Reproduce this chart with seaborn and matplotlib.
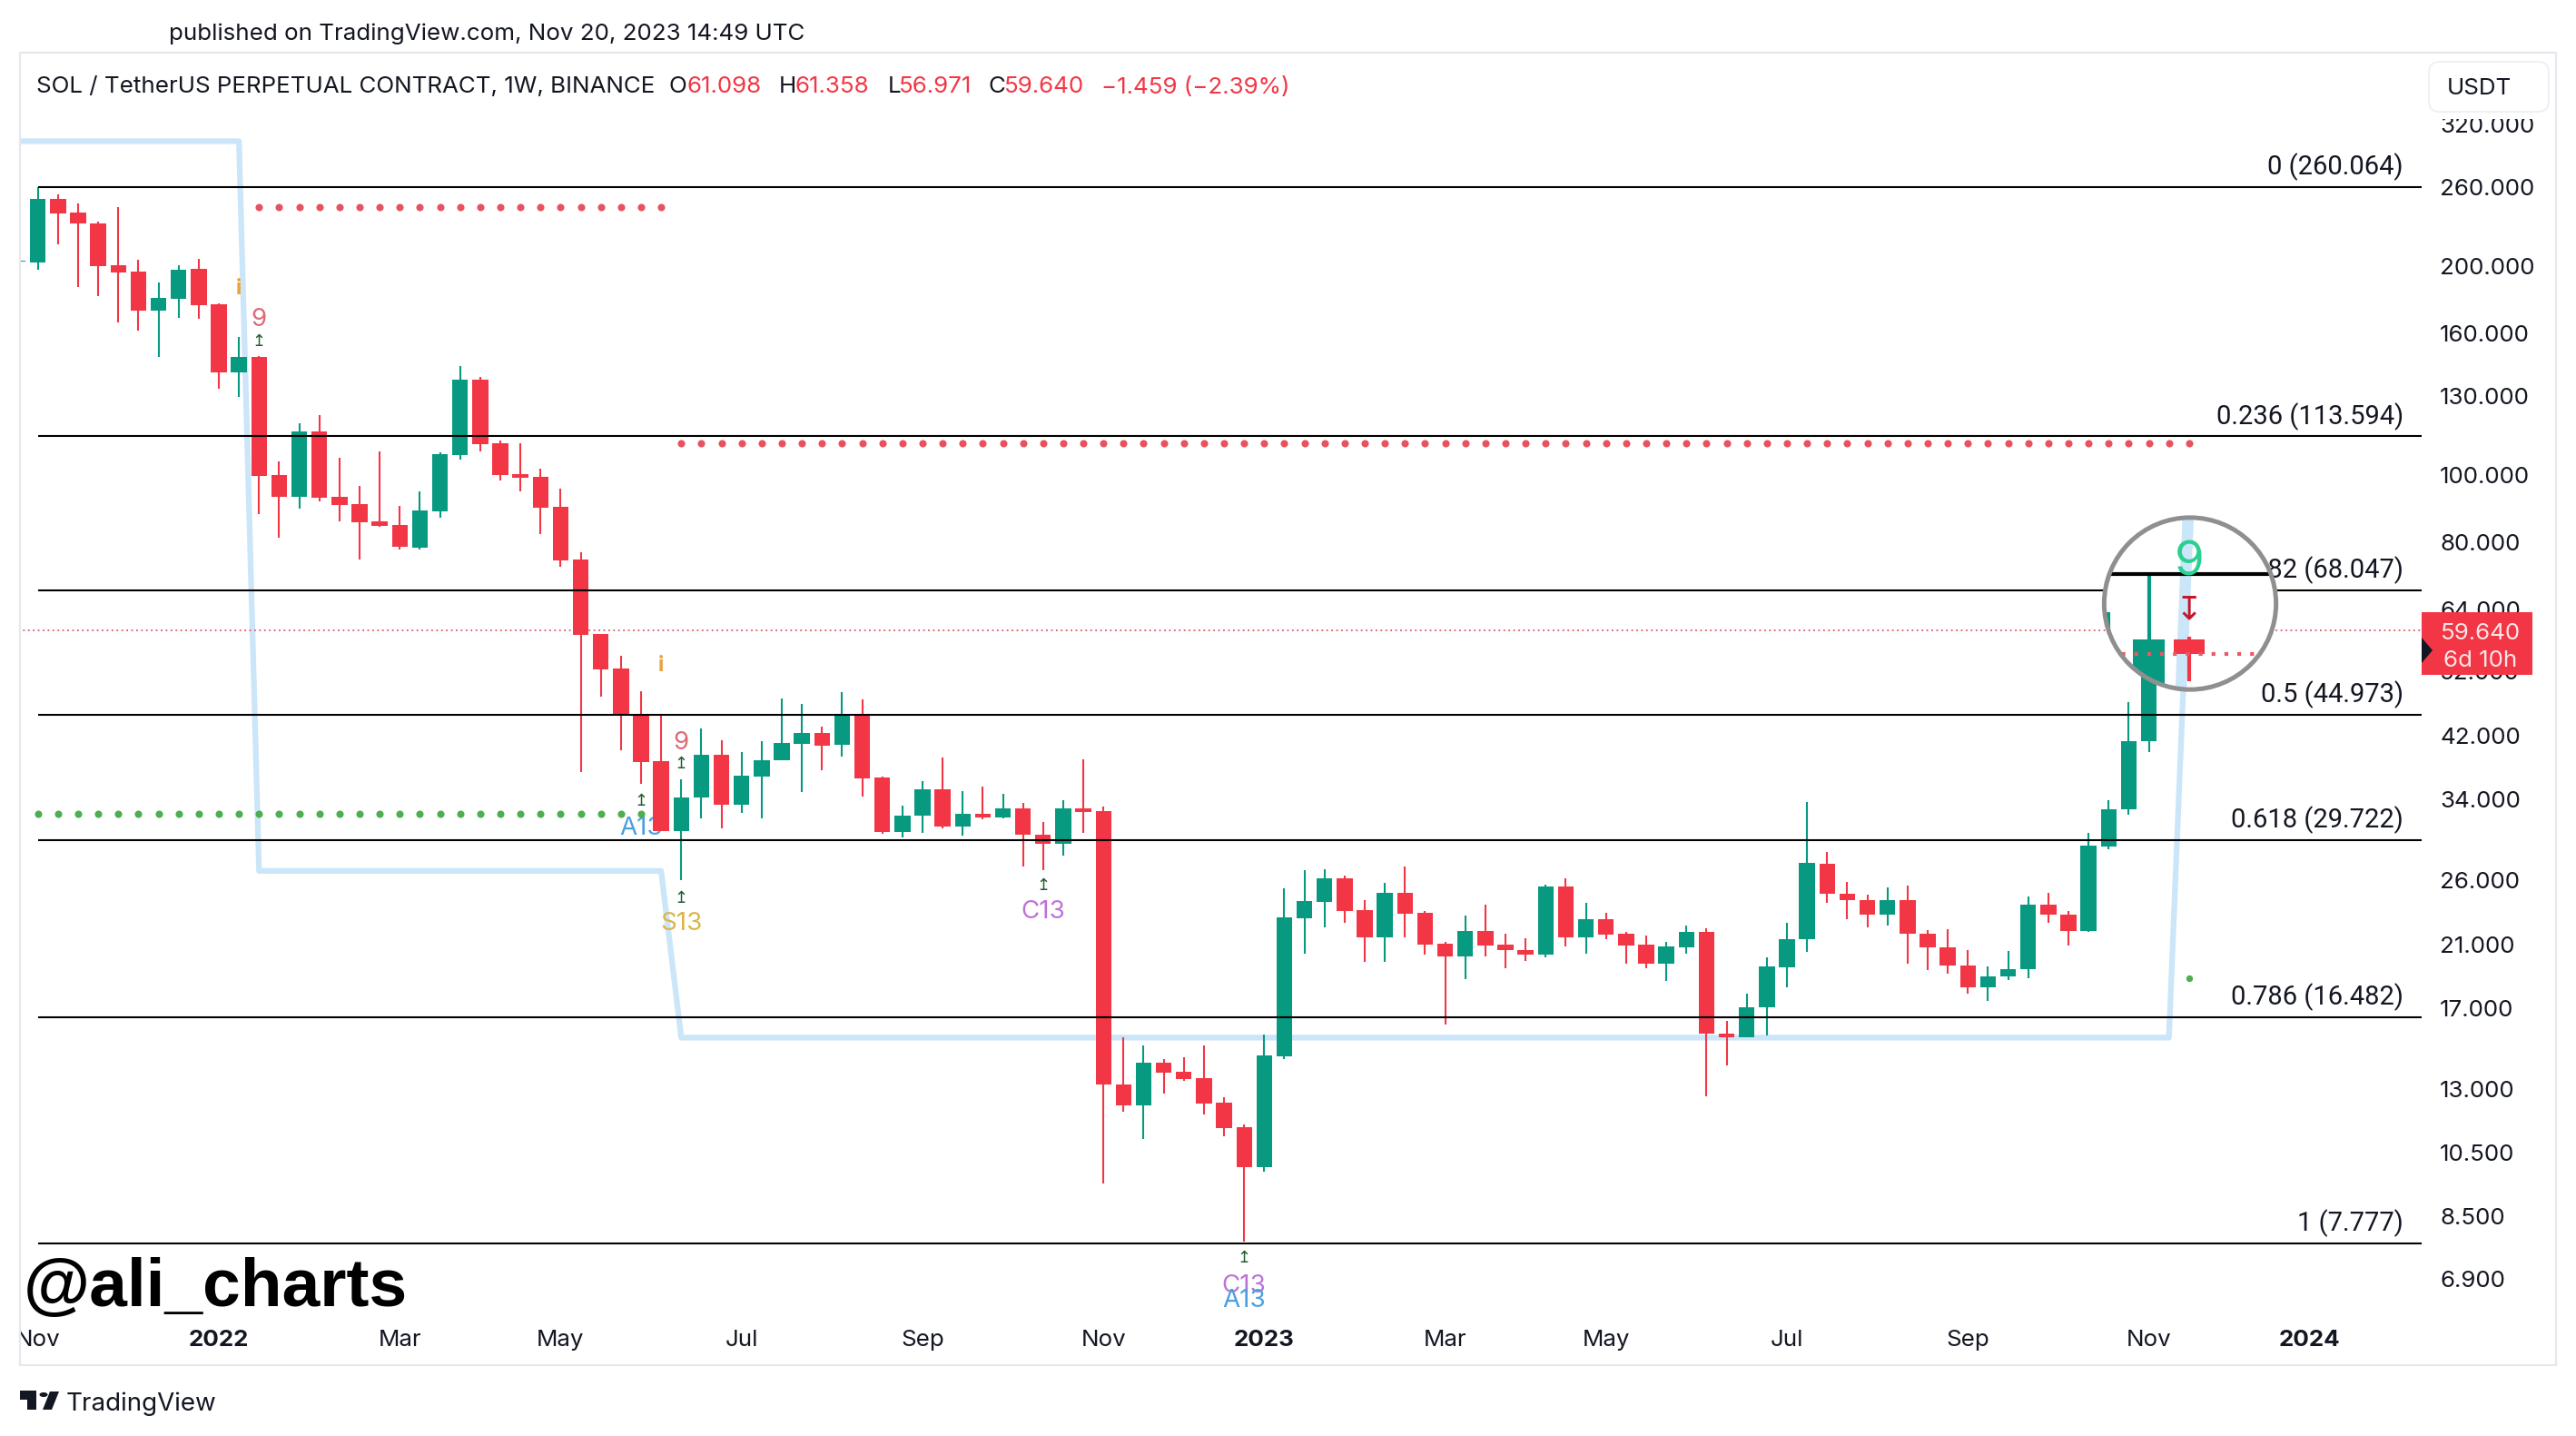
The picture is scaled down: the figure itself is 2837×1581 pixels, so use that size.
import matplotlib
matplotlib.use("Agg")
import matplotlib.pyplot as plt
from matplotlib.patches import Circle, Rectangle, Polygon, FancyBboxPatch
from matplotlib.ticker import NullLocator
from matplotlib.transforms import blended_transform_factory
import pandas as pd
import seaborn as sns

W, H = 2837, 1581

# ---------- data ----------
weeks = pd.date_range("2021-10-25", periods=109, freq="7D")
opens = [203.0, 202.7, 250.1, 239.0, 230.5, 200.6, 196.4, 172.7, 179.6, 198.2, 176.2, 140.7, 147.9, 99.9, 93.0, 115.5,
         92.9, 90.7, 85.7, 84.6, 78.5, 88.6, 106.9, 137.2, 111.1, 100.2, 99.2, 89.9, 75.5, 58.9, 52.5, 45.1, 38.6,
         30.6, 34.2, 39.4, 33.4, 36.7, 38.7, 40.9, 42.4, 40.7, 45.0, 36.6, 30.5, 32.2, 35.1, 31.1, 32.4, 32.0, 33.0,
         30.2, 29.3, 33.0, 32.7, 13.17, 12.28, 14.17, 13.76, 13.47, 12.42, 11.44, 10.0, 14.48, 22.89, 24.19, 26.16,
         23.55, 21.49, 24.92, 23.33, 21.06, 20.20, 21.96, 20.97, 20.61, 20.31, 25.47, 21.52, 22.83, 21.78, 20.97,
         19.66, 20.80, 21.89, 15.61, 15.43, 17.02, 19.47, 21.34, 27.46, 24.85, 24.29, 23.19, 24.29, 21.78, 20.82,
         19.6, 18.21, 18.86, 19.34, 23.93, 23.2, 21.95, 29.1, 32.85, 41.2, 56.0, 61.098]
highs = [204.2, 260.0, 253.9, 246.4, 231.7, 243.2, 204.3, 189.3, 200.4, 204.9, 176.8, 158.1, 148.2, 104.4, 118.7, 121.8,
         105.8, 96.4, 108.2, 90.2, 94.6, 107.6, 143.5, 138.3, 111.9, 111.1, 101.9, 95.5, 77.3, 58.9, 54.8, 48.7, 45.2,
         36.3, 43.0, 41.4, 39.8, 41.2, 47.6, 46.7, 43.3, 48.6, 47.4, 36.7, 33.3, 36.1, 39.1, 34.9, 35.5, 34.6, 33.6,
         31.5, 33.9, 38.8, 33.2, 15.43, 15.02, 14.33, 14.44, 15.02, 12.63, 11.53, 15.57, 25.30, 26.84, 26.95, 26.37,
         24.33, 25.78, 27.17, 23.46, 21.20, 23.11, 23.97, 21.75, 21.43, 25.57, 26.13, 24.10, 23.30, 21.89, 21.60,
         21.20, 22.34, 22.17, 16.28, 17.82, 20.11, 22.53, 33.70, 28.55, 25.85, 24.78, 25.34, 25.54, 22.03, 22.11,
         20.61, 19.53, 20.57, 24.60, 24.88, 23.43, 30.40, 33.9, 46.9, 63.9, 68.2, 61.358]
lows = [203.0, 197.8, 215.0, 186.8, 181.3, 166.1, 161.6, 148.1, 168.4, 168.1, 133.2, 129.7, 87.8, 81.0, 89.4, 91.4,
        85.7, 75.5, 84.1, 77.9, 78.1, 86.8, 105.3, 108.2, 98.2, 94.7, 82.0, 73.7, 37.2, 47.9, 40.0, 35.8, 30.6,
        26.0, 31.9, 30.9, 32.5, 31.9, 38.7, 34.8, 37.5, 39.2, 34.3, 30.3, 30.0, 30.4, 30.9, 30.1, 31.8, 31.9, 27.2,
        26.9, 28.2, 30.4, 9.47, 12.04, 10.98, 12.79, 13.32, 11.94, 11.09, 7.81, 9.85, 14.33, 20.36, 22.19, 22.56,
        19.80, 19.82, 21.49, 20.28, 16.07, 18.73, 20.17, 19.37, 19.88, 20.14, 20.86, 20.36, 21.34, 19.69, 19.42,
        18.60, 20.36, 12.66, 14.03, 15.43, 15.53, 18.23, 20.47, 24.07, 22.83, 22.22, 22.36, 19.68, 19.25, 19.05,
        17.83, 17.39, 18.65, 18.77, 22.56, 20.93, 21.9, 28.8, 32.3, 39.8, 52.0, 56.971]
closes = [204.0, 250.1, 238.5, 230.7, 200.2, 196.0, 172.7, 180.0, 197.6, 175.9, 140.7, 147.9, 99.7, 93.0, 115.5, 92.7,
          90.5, 85.5, 84.4, 78.8, 88.8, 107.1, 137.2, 110.8, 100.0, 99.0, 89.7, 75.3, 58.8, 52.4, 45.0, 38.5, 30.6,
          34.2, 39.4, 33.4, 36.8, 38.7, 41.0, 42.4, 40.6, 45.0, 36.5, 30.5, 32.2, 35.1, 31.1, 32.4, 32.0, 33.0, 30.2,
          29.3, 33.0, 32.6, 13.16, 12.28, 14.17, 13.72, 13.43, 12.38, 11.41, 10.0, 14.52, 22.99, 24.26, 26.16, 23.49,
          21.52, 24.92, 23.27, 20.97, 20.20, 21.96, 20.94, 20.58, 20.31, 25.47, 21.52, 22.83, 21.69, 20.92, 19.66,
          20.86, 21.89, 15.59, 15.43, 17.05, 19.53, 21.37, 27.54, 24.82, 24.29, 23.19, 24.29, 21.75, 20.80, 19.56,
          18.21, 18.86, 19.34, 23.93, 23.19, 21.95, 29.13, 32.85, 41.2, 56.0, 61.1, 59.64]

fib_levels = [260.064, 113.594, 68.047, 44.973, 29.722, 16.482, 7.777]
fib_labels = ["0 (260.064)", "0.236 (113.594)", "0.382 (68.047)", "0.5 (44.973)",
              "0.618 (29.722)", "0.786 (16.482)", "1 (7.777)"]

step_dates = ["2021-10-25", "2022-01-10", "2022-01-17", "2022-06-06", "2022-06-13", "2023-11-13", "2023-11-20"]
step_values = [303, 303, 26.8, 26.8, 15.4, 15.4, 78]

resist_top = 243.4
resist_mid = 111.0
support_low = 32.4
support_last = 18.74
last_price = 59.64

price_ticks = [320, 260, 200, 160, 130, 100, 80, 64, 52, 42, 34, 26, 21, 17, 13, 10.5, 8.5, 6.9]
date_ticks = ["2021-11-01", "2022-01-03", "2022-03-07", "2022-05-02", "2022-07-04", "2022-09-05", "2022-11-07",
              "2023-01-02", "2023-03-06", "2023-05-01", "2023-07-03", "2023-09-04", "2023-11-06", "2024-01-01"]
date_labels = ["Nov", "2022", "Mar", "May", "Jul", "Sep", "Nov", "2023", "Mar", "May", "Jul", "Sep", "Nov", "2024"]

signals = [("2022-01-10", 186.8, "i", "#e8a33d"), ("2022-01-17", 169.0, "9", "#dd6a76"),
           ("2022-06-06", 53.4, "i", "#e8a33d"), ("2022-06-13", 41.4, "9", "#dd6a76"),
           ("2022-05-30", 31.1, "A13", "#4a9fe0"), ("2022-06-13", 22.7, "S13", "#dcb54a"),
           ("2022-10-17", 23.6, "C13", "#bd72d8"), ("2022-12-26", 6.79, "C13", "#bd72d8"),
           ("2022-12-26", 6.47, "A13", "#4a9fe0")]
arrows = [("2022-01-17", 155.8), ("2022-05-30", 33.8), ("2022-06-13", 38.2), ("2022-06-13", 24.5),
          ("2022-10-17", 25.5), ("2022-12-26", 7.40)]

# ---------- style ----------
sns.set_theme(style="white")
plt.rcParams["font.family"] = ["Inter", "DejaVu Sans"]
INK = "#131722"
UP, DOWN = "#089981", "#f23645"
BLUE = "#cbe5f9"

fig = plt.figure(figsize=(W / 100, H / 100), dpi=100, facecolor="white")


def rect(x0, y0, x1, y1):
    return [x0 / W, 1 - y1 / H, (x1 - x0) / W, (y1 - y0) / H]


def fx(x):
    return x / W


def fy(y):
    return 1 - y / H


def scene(ax, k):
    """Everything that also shows in the magnifying circle."""
    ts = pd.DataFrame({"date": pd.to_datetime(step_dates), "level": step_values})
    sns.lineplot(data=ts, x="date", y="level", ax=ax, color=BLUE, linewidth=4.5 * k, errorbar=None,
                 legend=False, zorder=1.5, solid_capstyle="round")
    colors = [UP if c >= o else DOWN for o, c in zip(opens, closes)]
    ax.vlines(weeks, lows, highs, colors=colors, linewidth=1.5 * k, zorder=3)
    bottoms = [min(o, c) for o, c in zip(opens, closes)]
    heights = [abs(o - c) for o, c in zip(opens, closes)]
    ax.bar(weeks, heights, bottom=bottoms, width=5.5, color=colors, linewidth=0, zorder=3.2)
    ax.hlines(fib_levels, weeks[1], pd.Timestamp("2024-02-09"), colors="black", linewidth=1.5 * k, zorder=4)


# ---------- main chart ----------
ax = fig.add_axes(rect(22, 60, 2667, 1447))
ax.set_yscale("log")
scene(ax, 1)

ax.plot([weeks[0], pd.Timestamp("2024-02-09")], [last_price, last_price], color="#d65c68", linewidth=1.3,
        linestyle=(0, (1, 2)), zorder=2)
dot_sets = [(weeks[12:33], resist_top, "#e8525f"), (weeks[33:], resist_mid, "#e8525f"), (weeks[1:32], support_low, "#4caf50"),
            (weeks[108:], support_last, "#4caf50")]
for xs, lvl, col in dot_sets:
    sns.scatterplot(x=xs, y=[lvl] * len(xs), ax=ax, color=col, s=34 if len(xs) > 1 else 28, linewidth=0,
                    legend=False, zorder=2.5)

for d, p, s, c in signals:
    bold = s == "i"
    ax.annotate(s, xy=(pd.Timestamp(d), p), xytext=(0, -2), textcoords="offset points", color=c,
                fontsize=17 if bold else 20, fontweight="bold" if bold else "normal", ha="center", va="center",
                zorder=1.8 if s == "A13" and p > 10 else 5)
for d, p in arrows:
    ax.text(pd.Timestamp(d), p, "\u21a5", color="#1f5c2e", fontsize=13, family="DejaVu Sans", ha="center", va="center", zorder=5)

trans = blended_transform_factory(ax.transAxes, ax.transData)
for lvl, lab in zip(fib_levels, fib_labels):
    ax.annotate(lab, xy=(0.99244, lvl), xycoords=trans, xytext=(0, 5), textcoords="offset points",
                ha="right", va="bottom", fontsize=21, family="Roboto", color=INK, zorder=5)

ax.set_xlim(pd.Timestamp("2021-10-25 18:00"), pd.Timestamp("2024-02-09"))
ax.set_ylim(6.14, 404.2)
ax.yaxis.tick_right()
ax.set_yticks(price_ticks)
ax.set_yticklabels([f"{v:.3f}" for v in price_ticks], fontsize=18.7, color=INK)
ax.yaxis.set_minor_locator(NullLocator())
ax.set_xticks(pd.to_datetime(date_ticks))
ax.set_xticklabels(date_labels, fontsize=18.7, color=INK)
for lab in ax.get_xticklabels():
    if lab.get_text().isdigit():
        lab.set_fontweight("bold")
ax.tick_params(axis="both", length=0)
ax.tick_params(axis="y", pad=14.5)
ax.tick_params(axis="x", pad=12.5)
ax.set_xlabel("")
ax.set_ylabel("")
for sp in ax.spines.values():
    sp.set_visible(False)

# ---------- magnifier ----------
ins = fig.add_axes(rect(2412 - 95.6, 664.5 - 95.6, 2412 + 95.6, 664.5 + 95.6), zorder=6)
ins.set_yscale("log")
ins.add_patch(Circle((0.5, 0.5), 0.5, transform=ins.transAxes, facecolor="white", edgecolor="none", zorder=0))
scene(ins, 2)
ins.plot([weeks[0], pd.Timestamp("2024-02-09")], [last_price, last_price], color="#ec5763", linewidth=3,
         linestyle=(0, (1, 2.4)), zorder=3.5)
ins.text(weeks[-1], 69.3, "9", color="#2ad08f", fontsize=38, ha="center", va="center", zorder=5)
ins.text(weeks[-1], 64.1, "\u21a7", color="#c2182b", fontsize=26, family="DejaVu Sans", ha="center", va="center", zorder=5)
ins.set_xlim(pd.Timestamp("2023-11-05 02:00"), pd.Timestamp("2023-12-05 06:00"))
ins.set_ylim(56.1, 74.9)
ins.set_xlabel("")
ins.set_ylabel("")
ins.axis("off")
clip = Circle((0.5, 0.5), 0.5, transform=ins.transAxes)
for art in ins.get_children():
    art.set_clip_path(clip)
ins.add_patch(Circle((0.5, 0.5), 0.495, transform=ins.transAxes, facecolor="none", edgecolor="#8f8f8f",
                     linewidth=3.6, zorder=10, clip_on=False))

# ---------- frame, price box, header ----------
fig.add_artist(Rectangle((0, 0), fx(21), 1, transform=fig.transFigure, facecolor="white", edgecolor="none", zorder=7))
fig.add_artist(Rectangle((fx(22), fy(1503)), fx(2815 - 22), fy(58) - fy(1503), transform=fig.transFigure,
                         facecolor="none", edgecolor="#e6e8ee", linewidth=1.6, zorder=8))
fig.add_artist(Rectangle((fx(2675), fy(131)), fx(132), fy(110) - fy(131), transform=fig.transFigure,
                         facecolor="white", edgecolor="none", zorder=7.5))
fig.add_artist(FancyBboxPatch((fx(2675), fy(123)), fx(132), fy(68) - fy(123), transform=fig.transFigure,
                              boxstyle="round,pad=0,rounding_size=0.004", facecolor="white", edgecolor="#eef0f3",
                              linewidth=1.4, zorder=8, mutation_aspect=W / H))
fig.text(fx(2730), fy(98), "USDT", fontsize=18.7, color=INK, ha="center", va="center", zorder=9)

fig.add_artist(Rectangle((fx(2667), fy(743)), fx(122), fy(674) - fy(743), transform=fig.transFigure,
                         facecolor=DOWN, edgecolor="none", zorder=8))
fig.add_artist(Polygon([(fx(2667), fy(702)), (fx(2679), fy(716)), (fx(2667), fy(730))], closed=True,
                       transform=fig.transFigure, facecolor=INK, edgecolor="none", zorder=9))
fig.text(fx(2732), fy(697), "59.640", fontsize=18.7, color="#fde6e8", ha="center", va="center", zorder=9)
fig.text(fx(2732), fy(728), "6d 10h", fontsize=18.7, color="#fde6e8", ha="center", va="center", zorder=9)

fig.text(fx(186), fy(37), "published on TradingView.com, Nov 20, 2023 14:49 UTC", fontsize=18.7, color=INK, va="center")
fig.text(fx(40), fy(96), "SOL / TetherUS PERPETUAL CONTRACT, 1W, BINANCE", fontsize=18.7, color=INK, va="center")
for x, s, c in [(737, "O", INK), (756, "61.098", DOWN), (858, "H", INK), (876, "61.358", DOWN), (978, "L", INK),
                (990, "56.971", DOWN), (1089, "C", INK), (1106, "59.640", DOWN), (1213, "\u22121.459 (\u22122.39%)", DOWN)]:
    fig.text(fx(x), fy(96), s, fontsize=18.7, color=c, va="center")

fig.text(fx(26), fy(1438), "@ali_charts", fontsize=54, fontweight="bold", family="Liberation Sans", color="black",
         va="baseline", zorder=9)

fig.add_artist(Polygon([(fx(22), fy(1531)), (fx(40), fy(1531)), (fx(40), fy(1552)), (fx(30), fy(1552)), (fx(30), fy(1541)),
                        (fx(22), fy(1541))], closed=True, transform=fig.transFigure, facecolor=INK, edgecolor="none"))
fig.add_artist(Polygon([(fx(55), fy(1532)), (fx(65), fy(1532)), (fx(57), fy(1552)), (fx(47), fy(1552))], closed=True,
                       transform=fig.transFigure, facecolor=INK, edgecolor="none"))
fig.add_artist(Circle((fx(48), fy(1535.5)), 0.0016, transform=fig.transFigure, facecolor=INK, edgecolor="none"))
fig.text(fx(73), fy(1553), "TradingView", fontsize=20, color=INK, va="baseline")

fig.savefig("out.png", dpi=100, facecolor="white")
